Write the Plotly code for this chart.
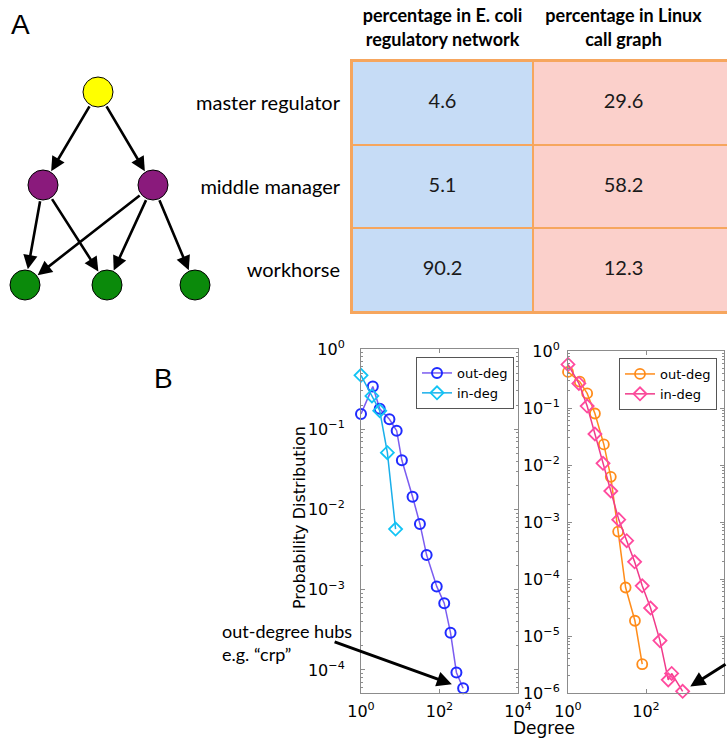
import numpy as np
import plotly.graph_objects as go

# ---------------- Panel A: hierarchy diagram ----------------
node_x = [98, 43, 153, 25, 107, 195]
node_y = [92, 185, 185, 285, 285, 285]
node_colors = ["#FFFF00", "#8A1A7C", "#8A1A7C", "#0B8A0B", "#0B8A0B", "#0B8A0B"]
edge_src = [0, 0, 1, 1, 2, 2, 2]
edge_dst = [1, 2, 3, 4, 3, 4, 5]

# ---------------- Panel A: table ----------------
roles = ["master regulator", "middle manager", "workhorse"]
col_headers = ["<b>percentage in E. coli<br>regulatory network</b>",
               "<b>percentage in Linux<br>call graph</b>"]
ecoli_pct = [4.6, 5.1, 90.2]
linux_pct = [29.6, 58.2, 12.3]

# ---------------- Panel B: degree distributions ----------------
ecoli_out_k = [1, 2, 3, 5.3, 8.1, 11, 20.6, 31.7, 47, 85, 132, 191, 270, 400]
ecoli_out_p = [0.155, 0.34, 0.18, 0.133, 0.096, 0.041, 0.0144, 0.0066, 0.0027,
               0.0011, 6.8e-4, 2.9e-4, 9.3e-5, 5.9e-5]
ecoli_in_k = [1, 1.9, 3, 4.7, 7.6]
ecoli_in_p = [0.47, 0.26, 0.17, 0.051, 0.0057]

linux_out_k = [1, 2, 3.1, 4.9, 8.3, 12.5, 19.3, 30, 52, 80]
linux_out_p = [0.43, 0.29, 0.18, 0.080, 0.023, 0.0062, 6.8e-4, 7.1e-5, 1.85e-5, 3.2e-6]
linux_in_k = [1, 1.9, 3.1, 4.9, 7.9, 12.5, 20, 32, 51, 80, 131, 228, 372, 455, 870]
linux_in_p = [0.58, 0.27, 0.108, 0.035, 0.0107, 0.0035, 0.0011, 4.7e-4, 2.0e-4,
              7.6e-5, 3.1e-5, 8.3e-6, 1.7e-6, 2.2e-6, 1.07e-6]

x_tickvals = [1, 100, 10000]
x_ticktext = ["10<sup>0</sup>", "10<sup>2</sup>", "10<sup>4</sup>"]
yl_tickvals = [1, 0.1, 0.01, 0.001, 0.0001]
yl_ticktext = ["10<sup>0</sup>", "10<sup>−1</sup>", "10<sup>−2</sup>", "10<sup>−3</sup>", "10<sup>−4</sup>"]
yr_tickvals = [1, 0.1, 0.01, 0.001, 1e-4, 1e-5, 1e-6]
yr_ticktext = ["10<sup>0</sup>", "10<sup>−1</sup>", "10<sup>−2</sup>", "10<sup>−3</sup>",
               "10<sup>−4</sup>", "10<sup>−5</sup>", "10<sup>−6</sup>"]

W, H = 727, 747


def px_x(p):
    return p / W


def px_y(p):
    return 1 - p / H


fig = go.Figure()

# network nodes
fig.add_trace(go.Scatter(
    x=node_x, y=node_y, mode="markers", xaxis="x", yaxis="y", showlegend=False,
    marker=dict(size=30, color=node_colors, line=dict(color="black", width=1)),
    hoverinfo="skip"))

# table heatmap
z = [[0, 1] for _ in roles]
fig.add_trace(go.Heatmap(
    x=[0, 1, 2.3], y=list(range(len(roles))), z=z, xaxis="x2", yaxis="y2",
    colorscale=[[0, "#C6DCF6"], [1, "#FBD0CB"]], showscale=False,
    xgap=2, ygap=2, hoverinfo="skip"))
fig.add_trace(go.Scatter(
    x=[0.5] * len(roles) + [1.5] * len(roles),
    y=list(range(len(roles))) * 2,
    text=[f"{v:.1f}" for v in ecoli_pct] + [f"{v:.1f}" for v in linux_pct],
    mode="text", xaxis="x2", yaxis="y2", showlegend=False,
    textfont=dict(family="Lato", size=20, color="#1a1a1a"), hoverinfo="skip"))

# degree distributions
fig.add_trace(go.Scatter(
    x=ecoli_out_k, y=ecoli_out_p, name="out-deg", mode="lines+markers",
    xaxis="x3", yaxis="y3", legend="legend", cliponaxis=False,
    line=dict(color="#7B5CF0", width=1.5),
    marker=dict(symbol="circle-open", size=10, color="#1F2BFF", line=dict(width=2))))
fig.add_trace(go.Scatter(
    x=ecoli_in_k, y=ecoli_in_p, name="in-deg", mode="lines+markers",
    xaxis="x3", yaxis="y3", legend="legend", cliponaxis=False,
    line=dict(color="#1AAFEA", width=1.5),
    marker=dict(symbol="diamond-open", size=10, color="#12C4F5", line=dict(width=1.8))))
fig.add_trace(go.Scatter(
    x=linux_out_k, y=linux_out_p, name="out-deg", mode="lines+markers",
    xaxis="x4", yaxis="y4", legend="legend2", cliponaxis=False,
    line=dict(color="#FF8C1A", width=1.5),
    marker=dict(symbol="circle-open", size=10, color="#FF8C1A", line=dict(width=1.8))))
fig.add_trace(go.Scatter(
    x=linux_in_k, y=linux_in_p, name="in-deg", mode="lines+markers",
    xaxis="x4", yaxis="y4", legend="legend2", cliponaxis=False,
    line=dict(color="#F03A8A", width=1.5),
    marker=dict(symbol="diamond-open", size=10, color="#FF4A9E", line=dict(width=1.8))))

annotations = []
for s, d in zip(edge_src, edge_dst):
    annotations.append(dict(
        x=node_x[d], y=node_y[d], ax=node_x[s], ay=node_y[s],
        xref="x", yref="y", axref="x", ayref="y", text="",
        showarrow=True, arrowhead=2, arrowsize=1.1, arrowwidth=2.6,
        arrowcolor="black", standoff=16, startstandoff=15))


def paper_text(x, y, text, font, **kw):
    d = dict(x=px_x(x), y=px_y(y), xref="paper", yref="paper", text=text,
             showarrow=False, xanchor="center", yanchor="middle", font=font)
    d.update(kw)
    return d


annotations += [
    paper_text(20, 25, "A", dict(family="Liberation Sans", size=28, color="black")),
    paper_text(163, 378, "B", dict(family="Liberation Sans", size=28, color="black")),
    paper_text(299, 518, "Probability Distribution",
               dict(family="DejaVu Sans", size=16, color="black"), textangle=-90),
    paper_text(544, 728, "Degree", dict(family="DejaVu Sans", size=17, color="black")),
    paper_text(220, 642, "out-degree hubs<br>e.g. “crp”",
               dict(family="Lato", size=18, color="black"), xanchor="left", align="left"),
    dict(x=np.log10(ecoli_out_k[-1]), y=np.log10(ecoli_out_p[-1]), xref="x3", yref="y3",
         ax=-130, ay=-47, text="", showarrow=True, arrowhead=2, arrowsize=1,
         arrowwidth=3, arrowcolor="black", standoff=12),
    dict(x=np.log10(linux_in_k[-1]), y=np.log10(linux_in_p[-1]), xref="x4", yref="y4",
         ax=80, ay=-28, text="", showarrow=True, arrowhead=2, arrowsize=1,
         arrowwidth=3, arrowcolor="black", standoff=9),
]

shapes = [dict(type="rect", xref="x2 domain", yref="y2 domain", x0=0, x1=1, y0=0, y1=1,
               fillcolor="#F6A65E", line=dict(width=0), layer="below")]

axis_gray = "#8c8c8c"
tickfont = dict(family="DejaVu Sans", size=16, color="black")


def log_x(domain, anchor):
    return dict(type="log", range=[0, 4], domain=domain, anchor=anchor,
                showline=True, mirror="ticks", linecolor=axis_gray, linewidth=1,
                ticks="inside", ticklen=4, tickcolor=axis_gray,
                tickvals=x_tickvals, ticktext=x_ticktext, tickfont=tickfont,
                showgrid=False, zeroline=False, ticklabelstandoff=4, automargin=False)


def log_y(domain, anchor, rng, vals, text, standoff):
    return dict(type="log", range=rng, domain=domain, anchor=anchor,
                showline=True, mirror="ticks", linecolor=axis_gray, linewidth=1,
                ticks="inside", ticklen=4, tickcolor=axis_gray,
                tickvals=vals, ticktext=text, tickfont=tickfont,
                minor=dict(ticks="inside", ticklen=2, tickcolor=axis_gray, dtick="D1"),
                showgrid=False, zeroline=False, ticklabelstandoff=standoff,
                automargin=False)


fig.update_layout(
    width=W, height=H, margin=dict(l=0, r=0, t=0, b=0, pad=0, autoexpand=False),
    paper_bgcolor="white", plot_bgcolor="white",
    xaxis=dict(domain=[0, px_x(220)], range=[0, 220], anchor="y", visible=False,
               automargin=False),
    yaxis=dict(domain=[px_y(320), 1], range=[320, 0], anchor="x", visible=False,
               automargin=False),
    xaxis2=dict(domain=[px_x(352), 1], range=[0, 375 / 181], anchor="y2", side="top",
                tickvals=[0.5, 1.5], ticktext=col_headers, ticks="",
                tickfont=dict(family="Lato", size=18, color="black"),
                showline=True, mirror=True, linecolor="#F6A65E", linewidth=2,
                showgrid=False, zeroline=False, ticklabelstandoff=6, automargin=False),
    yaxis2=dict(domain=[px_y(312), px_y(61)], range=[len(roles) - 0.5, -0.5], anchor="x2",
                tickvals=list(range(len(roles))), ticktext=roles, ticks="",
                tickfont=dict(family="Lato", size=20, color="black"),
                showline=True, linecolor="#F6A65E", linewidth=2,
                showgrid=False, zeroline=False, ticklabelstandoff=6, automargin=False),
    xaxis3=log_x([px_x(361), px_x(518)], "y3"),
    yaxis3=log_y([px_y(693), px_y(349)], "x3", [np.log10(5.16e-5), 0],
                 yl_tickvals, yl_ticktext, 12),
    xaxis4=log_x([px_x(568), px_x(724)], "y4"),
    yaxis4=log_y([px_y(693), px_y(351)], "x4", [-6, 0], yr_tickvals, yr_ticktext, 4),
    legend=dict(x=px_x(514), xanchor="right", y=px_y(357), yanchor="top",
                bordercolor="#555555", borderwidth=1, bgcolor="white",
                font=dict(family="DejaVu Sans", size=13, color="black"),
                itemwidth=30, tracegroupgap=0),
    legend2=dict(x=px_x(717), xanchor="right", y=px_y(358), yanchor="top",
                 bordercolor="#555555", borderwidth=1, bgcolor="white",
                 font=dict(family="DejaVu Sans", size=13, color="black"),
                 itemwidth=30, tracegroupgap=0),
    annotations=annotations, shapes=shapes,
)

fig.write_html("out.html", config={"displayModeBar": False},
               post_script="document.body.style.margin='0';document.body.style.overflow='hidden';")
